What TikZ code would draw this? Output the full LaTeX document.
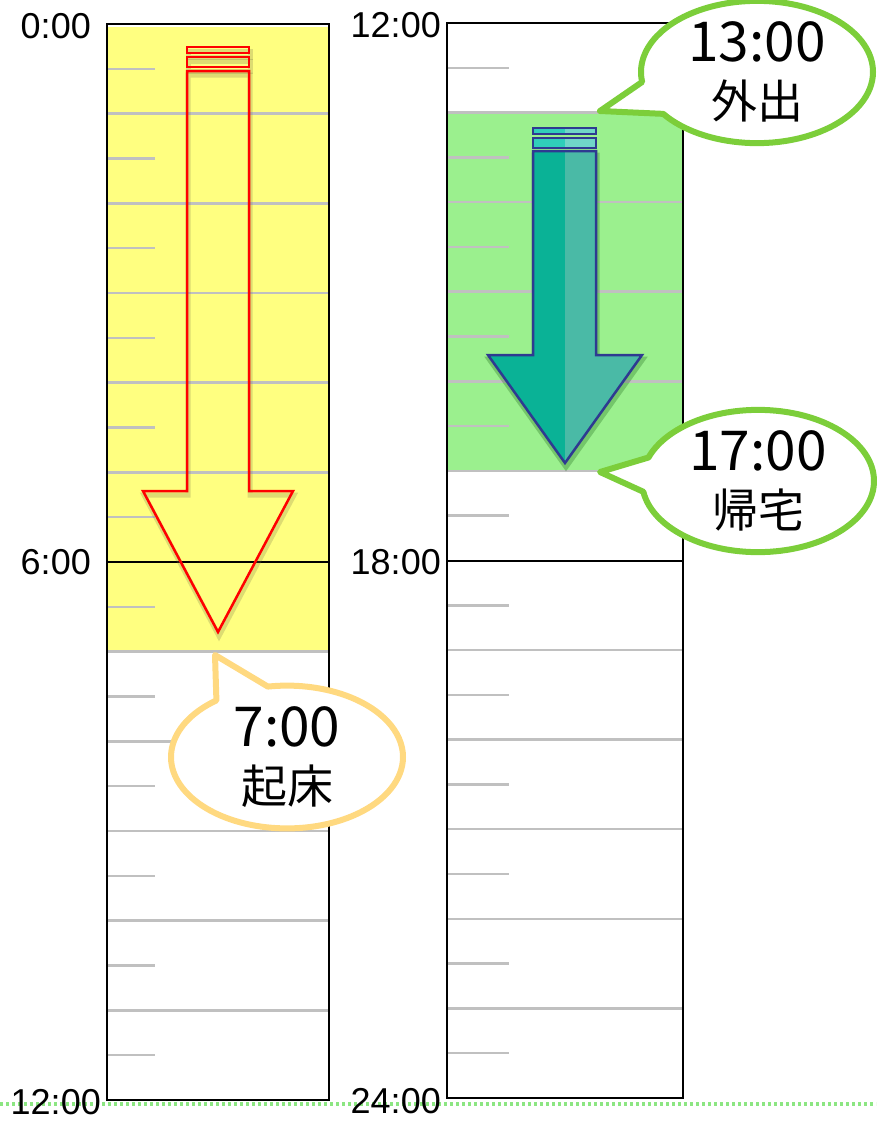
\documentclass[tikz,border=0pt]{standalone}
\usepackage{fontspec}
\setmainfont{Liberation Sans}
\newfontfamily\jpfont{Noto Sans CJK JP}
\usetikzlibrary{shapes.callouts, positioning}

\definecolor{dayyellow}{RGB}{255,255,128}
\definecolor{outgreen}{RGB}{155,240,142}
\definecolor{tickgray}{RGB}{192,192,192}
\definecolor{bubblegreen}{RGB}{124,206,58}
\definecolor{bubbleorange}{RGB}{255,217,128}
\definecolor{tealdark}{RGB}{10,178,150}
\definecolor{teallight}{RGB}{74,186,166}
\definecolor{stripeleft}{RGB}{48,206,186}
\definecolor{striperight}{RGB}{112,214,200}
\definecolor{arrowblue}{RGB}{46,58,145}
\definecolor{dotgreen}{RGB}{140,230,130}

\tikzset{
  hourline/.style={draw=tickgray, line width=2.5pt},
  colframe/.style={draw=black, line width=2.5pt},
  redarrow/.style={draw=red, line width=2.5pt},
  bluearrow/.style={draw=arrowblue, line width=2.5pt},
  arrowshadow/.style={draw=black!60!yellow, line width=5pt, opacity=0.25},
  timelabel/.style={anchor=east, inner sep=0pt, font=\fontsize{36}{40}\selectfont},
  bubble/.style={ellipse callout, fill=white, line width=6pt, line join=round,
    inner sep=0pt, minimum width=232pt, minimum height=128pt, align=center,
    callout pointer arc=28, font=\jpfont\fontsize{46}{57}\selectfont},
}
\newcommand\bubbletime[1]{{\fontsize{55}{57}\selectfont #1}}

\begin{document}
\begin{tikzpicture}[x=1pt, y=-1pt]
    \useasboundingbox (0,0) rectangle (876,1122);

    % Shaded time spans
    \fill[dayyellow] (108,27) rectangle (329,651);
    \fill[outgreen] (447,113) rectangle (683,471);

    % Ticks, left column (0:00 - 12:00)
    \foreach \h in {1,...,12}
        \draw[hourline] (107,{24+89.67*(\h-0.5)}) -- (155,{24+89.67*(\h-0.5)});
    \foreach \h in {1,2,3,4,5,7,8,9,10,11}
        \draw[hourline] (107,{24+89.67*\h}) -- (329,{24+89.67*\h});

    % Ticks, right column (12:00 - 24:00)
    \foreach \h in {1,...,12}
        \draw[hourline] (447,{23+89.58*(\h-0.5)}) -- (509,{23+89.58*(\h-0.5)});
    \foreach \h in {1,2,3,4,5,7,8,9,10,11}
        \draw[hourline] (447,{23+89.58*\h}) -- (683,{23+89.58*\h});

    % Noon / evening lines and the two frames
    \draw[black, line width=2pt] (107,562) -- (329,562);
    \draw[black, line width=2pt] (447,561) -- (683,561);
    \draw[colframe] (107,24) rectangle (329,1100);
    \draw[colframe] (447,23) rectangle (683,1098);

    % Dotted line at the bottom
    \draw[dotgreen, line width=3.5pt, dash pattern=on 3pt off 3pt] (0,1104) -- (876,1104);

    % Red arrow (sleep)
    \begin{scope}[shift={(1,4)}]
        \draw[arrowshadow] (187,71) -- (249,71) -- (249,491) -- (293,491) -- (218,632) -- (143,491) -- (187,491) -- cycle;
        \draw[arrowshadow] (187,47) rectangle (249,53);
        \draw[arrowshadow] (187,57) rectangle (249,67);
    \end{scope}
    \draw[redarrow] (187,71) -- (249,71) -- (249,491) -- (293,491) -- (218,632) -- (143,491) -- (187,491) -- cycle;
    \draw[redarrow] (187,47) rectangle (249,53);
    \draw[redarrow] (187,57) rectangle (249,67);

    % Teal arrow (out)
    \begin{scope}[shift={(1,4)}]
        \draw[arrowshadow, draw=black!70!green] (533,151) -- (596,151) -- (596,355) -- (642,355) -- (565,463) -- (488,355) -- (533,355) -- cycle;
    \end{scope}
    \fill[tealdark] (533,151) -- (596,151) -- (596,355) -- (642,355) -- (565,463) -- (488,355) -- (533,355) -- cycle;
    \fill[teallight] (565,151) -- (596,151) -- (596,355) -- (642,355) -- (565,463) -- cycle;
    \draw[bluearrow] (533,151) -- (596,151) -- (596,355) -- (642,355) -- (565,463) -- (488,355) -- (533,355) -- cycle;
    \fill[stripeleft] (533,128) rectangle (565,134);
    \fill[striperight] (565,128) rectangle (596,134);
    \fill[stripeleft] (533,138) rectangle (565,148);
    \fill[striperight] (565,138) rectangle (596,148);
    \draw[bluearrow] (533,128) rectangle (596,134);
    \draw[bluearrow] (533,138) rectangle (596,148);

    % Callouts
    \node[bubble, draw=bubbleorange, callout absolute pointer={(215,655)}] (wakeup) at (287,757) {\bubbletime{7:00}\\起床};
    \node[bubble, draw=bubblegreen, callout absolute pointer={(600,111)}] (goout) at (757,72) {\bubbletime{13:00}\\外出};
    \node[bubble, draw=bubblegreen, callout absolute pointer={(600,472)}] (gohome) at (758,481) {\bubbletime{17:00}\\帰宅};

    % Hour labels
    \node[timelabel] (t0) at (91,26) {0:00};
    \node[timelabel] (t6) at (91,562) {6:00};
    \node[timelabel] (t12a) at (101,1102) {12:00};
    \node[timelabel] (t12b) at (441,25) {12:00};
    \node[timelabel] (t18) at (441,562) {18:00};
    \node[timelabel] (t24) at (441,1101) {24:00};
\end{tikzpicture}
\end{document}
